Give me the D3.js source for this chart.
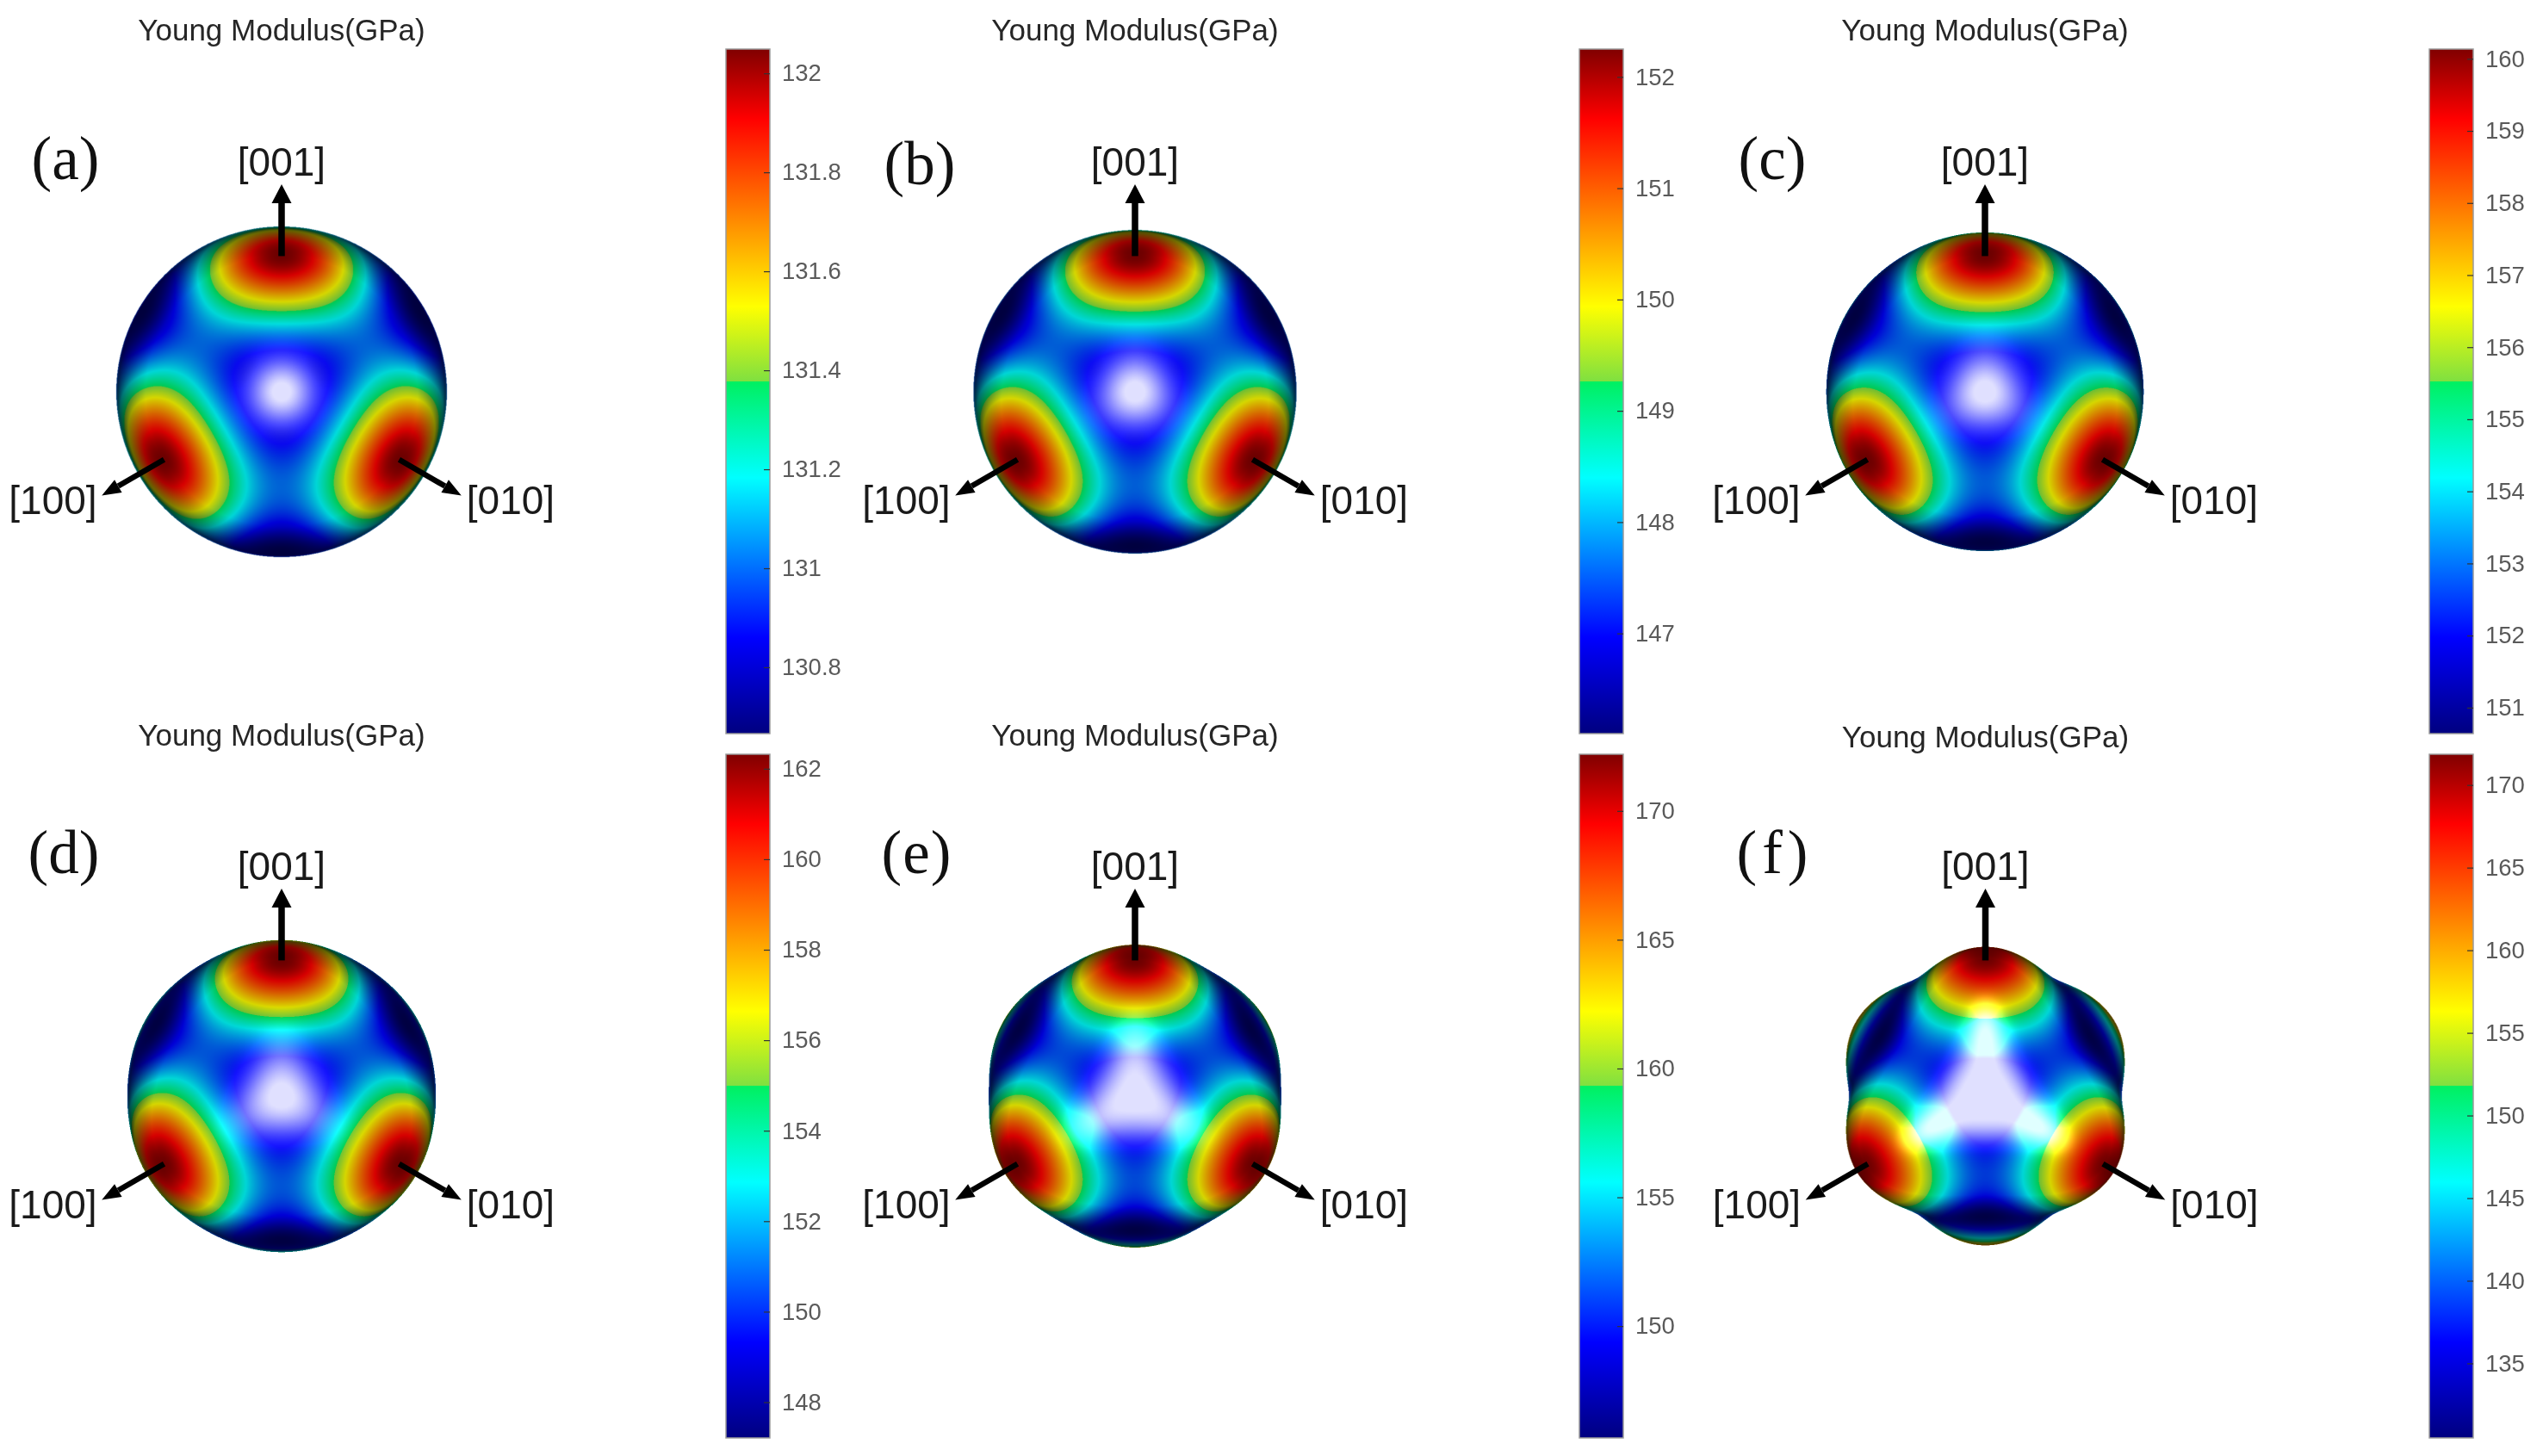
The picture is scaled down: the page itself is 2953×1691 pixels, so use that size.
<!DOCTYPE html>
<html><head><meta charset="utf-8">
<script src="https://cdnjs.cloudflare.com/ajax/libs/d3/7.8.5/d3.min.js"></script>
<style>
html,body{margin:0;padding:0;background:#fff;width:2953px;height:1691px;overflow:hidden}
#wrap{position:relative;width:2953px;height:1691px;filter:blur(0.7px)}
canvas,svg{position:absolute;left:0;top:0}
</style></head><body><div id="wrap"></div>
<script>
// ---- values ----
const panelNames = ["(a)","(b)","(c)","(d)","(e)","(f)"];
const modulusMin = [130.666,146.10,150.64,147.21,145.66,130.49];
const modulusMax = [132.049,152.25,160.135,162.32,172.20,171.86];
const ticksA = [132,131.8,131.6,131.4,131.2,131,130.8];
const ticksB = [152,151,150,149,148,147];
const ticksC = [160,159,158,157,156,155,154,153,152,151];
const ticksD = [162,160,158,156,154,152,150,148];
const ticksE = [170,165,160,155,150];
const ticksF = [170,165,160,155,150,145,140,135];
const panelTicks = [ticksA,ticksB,ticksC,ticksD,ticksE,ticksF];
const titleText = "Young Modulus(GPa)";
const axisNames = ["[001]","[100]","[010]"];
const axisVectors = [[0,0,1],[1,0,0],[0,1,0]];
const colorStops = [0,0.14,0.374,0.515,0.515,0.624,0.898,1];
const colorValues = ["#000080","#0000ff","#00ffff","#00f060","#80e040","#ffff00","#ff0000","#800000"];

// ---- layout ----
const W=2953,H=1691;
const centerX=[327,1318,2305,327,1318,2305.5];
const centerY=[455,455,455,1273,1273,1273];
const barX=[843,1834,2821,843,1834,2821], barW=51;
const barTop=[57,57,57,876,876,876], barBot=[852,852,852,1670,1670,1670];
const titleY=[47,47,47,866,866,868];
const letterX=[76,1068,2058,74,1064.5,2061];
const letterY=[208,214,208,1014,1014,1014];
const letterGap=[0,0,0,0,1,6];
const surfaceRadius=[193.5,193.5,193,193,193,196];

const colormap=d3.scaleLinear().domain(colorStops).range(colorValues).clamp(true);
const LUT=d3.range(2048).map(i=>{const c=d3.rgb(colormap(i/2047));return [c.r,c.g,c.b];});

const wrap=d3.select("#wrap");
const canvas=wrap.append("canvas").attr("width",W).attr("height",H);
const ctx=canvas.node().getContext("2d");
ctx.fillStyle="#fff";ctx.fillRect(0,0,W,H);
const svg=wrap.append("svg").attr("width",W).attr("height",H);
const defs=svg.append("defs");
const gradient=defs.append("linearGradient").attr("id","cmap").attr("x1",0).attr("x2",0).attr("y1",1).attr("y2",0);
gradient.selectAll("stop").data(colorStops).join("stop")
  .attr("offset",d=>d).attr("stop-color",(d,i)=>colorValues[i]);

// view along [111], [001] up
const s2=Math.SQRT2,s3=Math.sqrt(3),s6=Math.sqrt(6);
const U=[-1/s2,1/s2,0],V=[-1/s6,-1/s6,2/s6],Z=[1/s3,1/s3,1/s3];
const KA=0.10,KD=1.3,FMAX=0.84,KS=0.95,SPEC=15,SPMAX=0.88;

function renderSurface(i){
  const Emin=modulusMin[i],Emax=modulusMax[i],Rm=surfaceRadius[i];
  const a=1/Emax,b=3*(1/Emin-1/Emax);      // compliance against the cubic orientation term
  const rOf=(x,y,z)=>{ // returns g = |p| - r(dir)
    const d2=x*x+y*y+z*z,x2=x*x/d2,y2=y*y/d2,z2=z*z/d2;
    const J=x2*y2+y2*z2+z2*x2;
    return Math.sqrt(d2)-Rm/(Emax*(a+b*J));
  };
  const rad=Rm, Rmin=Rm*Emin/Emax;
  const ss=2,size=Math.ceil(2*Rm+12),px=size*ss;
  const off=document.createElement("canvas");off.width=px;off.height=px;
  const oc=off.getContext("2d"),img=oc.createImageData(px,px),D=img.data;
  for(let iy=0;iy<px;iy++){
    const sy=(px/2-iy-0.5)/ss;
    for(let ix=0;ix<px;ix++){
      const sx=(ix+0.5-px/2)/ss;
      const rho2=sx*sx+sy*sy;
      if(rho2>=rad*rad) continue;
      const t0=Math.sqrt(rad*rad-rho2);
      const t1=rho2<Rmin*Rmin?Math.sqrt(Rmin*Rmin-rho2):-t0;
      const n=t1>0?10:40,dt=(t0-t1)/n;
      const ox=sx*U[0]+sy*V[0],oy=sx*U[1]+sy*V[1],oz=sx*U[2]+sy*V[2];
      let hi=t0,lo=null;
      for(let k=1;k<=n;k++){
        const t=t0-k*dt;
        if(rOf(ox+t*Z[0],oy+t*Z[1],oz+t*Z[2])<=0){lo=t;break;}
        hi=t;
      }
      if(lo===null) continue;
      for(let k=0;k<9;k++){
        const t=(lo+hi)/2;
        if(rOf(ox+t*Z[0],oy+t*Z[1],oz+t*Z[2])<=0) lo=t; else hi=t;
      }
      const t=(lo+hi)/2,x=ox+t*Z[0],y=oy+t*Z[1],z=oz+t*Z[2];
      const e=0.05,g0=rOf(x,y,z);
      let nx=rOf(x+e,y,z)-g0,ny=rOf(x,y+e,z)-g0,nz=rOf(x,y,z+e)-g0;
      const nl=Math.hypot(nx,ny,nz);nx/=nl;ny/=nl;nz/=nl;
      const NL=Math.max(0,nx*Z[0]+ny*Z[1]+nz*Z[2]);
      const d2=x*x+y*y+z*z,x2=x*x/d2,y2=y*y/d2,z2=z*z/d2;
      const J=x2*y2+y2*z2+z2*x2;
      const E=1/(a+b*J);
      const u=Math.max(0,Math.min(1,(E-Emin)/(Emax-Emin)));
      const col=LUT[Math.round(u*2047)];
      const rim=0.6*Math.max(0,1-NL/0.25);
      const f=Math.max(rim,Math.min(FMAX,KA+KD*NL));
      const rv=Math.max(0,2*NL*NL-1);
      const sp=Math.min(SPMAX,KS*Math.pow(rv,SPEC))*255;
      const blueLift=1+0.25*Math.pow(rv,6);
      const j=(iy*px+ix)*4;
      D[j]=Math.min(255,col[0]*f*blueLift+sp);D[j+1]=Math.min(255,col[1]*f*blueLift+sp);D[j+2]=Math.min(255,col[2]*f*blueLift+sp);D[j+3]=255;
    }
  }
  oc.putImageData(img,0,0);
  ctx.imageSmoothingEnabled=true;ctx.imageSmoothingQuality="high";
  ctx.drawImage(off,centerX[i]-size/2,centerY[i]-size/2,size,size);
}

panelNames.forEach((name,i)=>{
  renderSurface(i);
  const g=svg.append("g");
  g.append("text").attr("x",centerX[i]).attr("y",titleY[i]).attr("text-anchor","middle")
    .attr("font-family","'Liberation Sans',Arial,sans-serif").attr("font-size",35).attr("fill","#262626").text(titleText);
  g.append("text").attr("x",letterX[i]).attr("y",letterY[i]).attr("text-anchor","middle")
    .attr("font-family","'Liberation Serif','Times New Roman',serif").attr("font-size",71)
    .attr("letter-spacing",letterGap[i]).attr("fill","#111").text(name);

  // colour bar
  const y=d3.scaleLinear().domain([modulusMin[i],modulusMax[i]]).range([barBot[i],barTop[i]]);
  g.append("rect").attr("x",barX[i]).attr("y",y(modulusMax[i])).attr("width",barW)
    .attr("height",y(modulusMin[i])-y(modulusMax[i])).attr("fill","url(#cmap)").attr("stroke","#9a9a9a").attr("stroke-width",1.5);
  const axis=d3.axisRight(y).tickValues(panelTicks[i]).tickSize(-7).tickPadding(14).tickFormat(d=>String(d));
  const ag=g.append("g").attr("transform",`translate(${barX[i]+barW},0)`).call(axis);
  ag.select(".domain").remove();
  ag.selectAll("line").attr("stroke","#333").attr("stroke-width",1.2);
  ag.selectAll("text").attr("font-family","'Liberation Sans',Arial,sans-serif").attr("font-size",27.5).attr("fill","#5a5a5a");

  // crystal axes
  const sx=d3.scaleLinear().domain([-1,1]).range([centerX[i]-193,centerX[i]+193]);
  const sy=d3.scaleLinear().domain([-1,1]).range([centerY[i]+193,centerY[i]-193]);
  axisVectors.forEach((vec,k)=>{
    const px=vec[0]*U[0]+vec[1]*U[1]+vec[2]*U[2], py=vec[0]*V[0]+vec[1]*V[1]+vec[2]*V[2];
    const start=1, tip=1.53, neck=1.39;
    const hw=k===0?11.5:8.5, sw=k===0?7.5:6.5;
    const x0=sx(px*start),y0=sy(py*start),x1=sx(px*tip),y1=sy(py*tip),xn=sx(px*neck),yn=sy(py*neck);
    const L=Math.hypot(x1-x0,y1-y0),nx=-(y1-y0)/L,ny=(x1-x0)/L;
    g.append("line").attr("x1",x0).attr("y1",y0).attr("x2",xn).attr("y2",yn).attr("stroke","#000").attr("stroke-width",sw);
    g.append("polygon").attr("points",[[x1,y1],[xn+nx*hw,yn+ny*hw],[xn-nx*hw,yn-ny*hw]].map(p=>p.join(",")).join(" ")).attr("fill","#000");
    const lx=k===0?sx(0):sx(0)+(k===1?-265.5:266), ly=centerY[i]+(k===0?-251:142);
    g.append("text").attr("x",lx).attr("y",ly).attr("text-anchor","middle")
      .attr("font-family","'Liberation Sans',Arial,sans-serif").attr("font-size",46).attr("fill","#1a1a1a").text(axisNames[k]);
  });
});
</script></body></html>
